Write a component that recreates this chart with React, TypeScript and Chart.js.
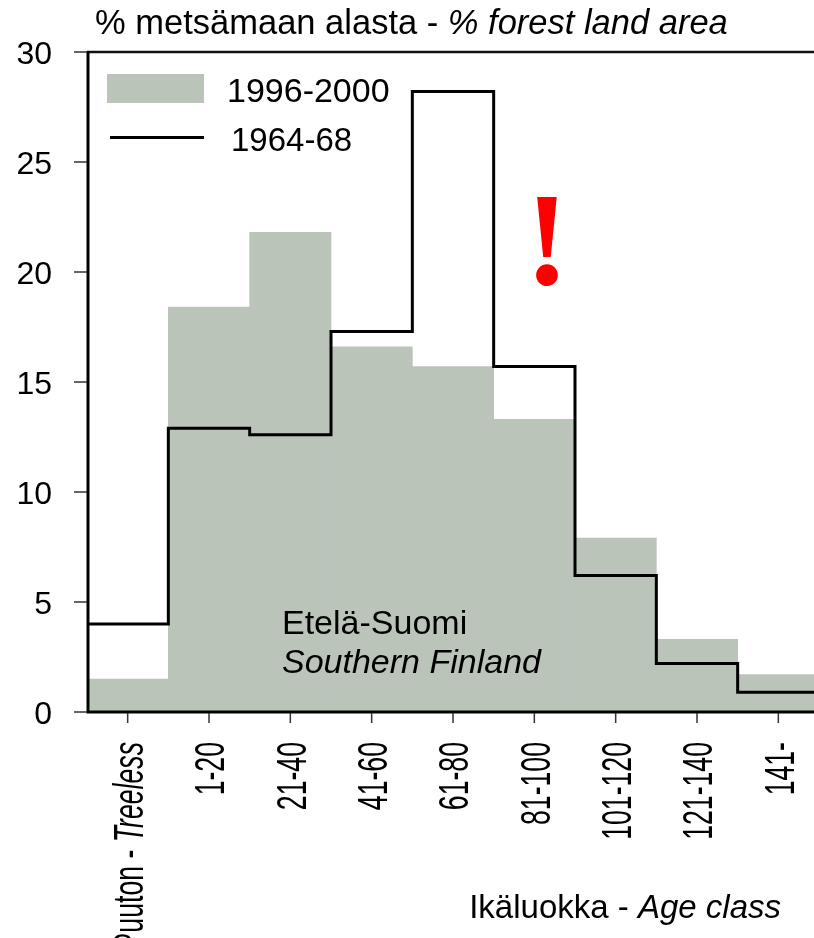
import { useEffect, useRef } from 'react';
import { Chart, registerables } from 'chart.js';

Chart.register(...registerables);

const categories = ['Puuton - Treeless', '1-20', '21-40', '41-60', '61-80', '81-100', '101-120', '121-140', '141-'];
const forest1996 = [1.5, 18.4, 21.8, 16.6, 15.7, 13.3, 7.9, 3.3, 1.7];
const forest1964 = [4.0, 12.9, 12.6, 17.3, 28.2, 15.7, 6.2, 2.2, 0.9];
const yTicks = [0, 5, 10, 15, 20, 25, 30];
const seriesNames = ['1996-2000', '1964-68'];

const GRAY = '#bac4b9';
const SANS = '"Liberation Sans", Arial, sans-serif';

type Seg = [string, boolean];

function segWidth(ctx: CanvasRenderingContext2D, segs: Seg[], size: number) {
  let w = 0;
  for (const [t, it] of segs) {
    ctx.font = `${it ? 'italic ' : ''}${size}px ${SANS}`;
    w += ctx.measureText(t).width;
  }
  return w;
}

function drawRich(ctx: CanvasRenderingContext2D, segs: Seg[], size: number, x: number, y: number) {
  let cx = x;
  for (const [t, it] of segs) {
    ctx.font = `${it ? 'italic ' : ''}${size}px ${SANS}`;
    ctx.fillText(t, cx, y);
    cx += ctx.measureText(t).width;
  }
}

function splitLabel(label: string): Seg[] {
  const i = label.indexOf(' - ');
  if (i < 0) return [[label, false]];
  return [[label.slice(0, i + 3), false], [label.slice(i + 3), true]];
}

const decorPlugin = {
  id: 'decor',
  afterDatasetsDraw(chart: any) {
    const { ctx, chartArea, scales } = chart;
    const xs = scales.x;
    const ys = scales.y;
    const yTop = ys.getPixelForValue(30);
    const y0 = ys.getPixelForValue(0);
    ctx.save();
    ctx.fillStyle = '#000';
    ctx.textBaseline = 'alphabetic';

    // frame lines
    ctx.strokeStyle = '#111';
    ctx.lineWidth = 2.5;
    ctx.beginPath();
    ctx.moveTo(chartArea.left, yTop);
    ctx.lineTo(chartArea.right + 5, yTop);
    ctx.stroke();
    ctx.strokeStyle = '#000';
    ctx.lineWidth = 3;
    ctx.beginPath();
    ctx.moveTo(chartArea.left + 1, yTop - 1);
    ctx.lineTo(chartArea.left + 1, y0 + 1.5);
    ctx.moveTo(chartArea.left, y0);
    ctx.lineTo(chartArea.right + 5, y0);
    ctx.stroke();

    // y ticks
    ctx.strokeStyle = '#333';
    ctx.lineWidth = 1.5;
    ctx.font = `32px ${SANS}`;
    ctx.textAlign = 'right';
    for (const v of yTicks) {
      const py = ys.getPixelForValue(v);
      ctx.beginPath();
      ctx.moveTo(74, py);
      ctx.lineTo(chartArea.left, py);
      ctx.stroke();
      ctx.fillText(String(v), 52, py + 11.5);
    }

    // x ticks and rotated labels
    ctx.textAlign = 'left';
    const xsSize = 43;
    for (let i = 0; i < categories.length; i++) {
      const px = xs.getPixelForValue(i);
      ctx.beginPath();
      ctx.moveTo(px, y0 + 1);
      ctx.lineTo(px, y0 + 11);
      ctx.stroke();
      const segs = splitLabel(categories[i]);
      ctx.save();
      ctx.translate(px + 0.358 * xsSize, 742);
      ctx.rotate(-Math.PI / 2);
      ctx.scale(0.62, 1);
      const w = segWidth(ctx, segs, xsSize);
      drawRich(ctx, segs, xsSize, -w, 0);
      ctx.restore();
    }

    // title
    drawRich(ctx, [['% metsämaan alasta - ', false], ['% forest land area', true]], 34.5, 95, 34);
    // x axis title
    const xt: Seg[] = [['Ikäluokka - ', false], ['Age class', true]];
    const xtw = segWidth(ctx, xt, 33);
    drawRich(ctx, xt, 33, 781 - xtw, 918);

    // region text
    ctx.font = `34px ${SANS}`;
    ctx.fillText('Etelä-Suomi', 282, 634);
    ctx.font = `italic 34px ${SANS}`;
    ctx.fillText('Southern Finland', 282, 673);

    // legend
    ctx.fillStyle = GRAY;
    ctx.fillRect(107, 74, 97, 29);
    ctx.fillStyle = '#000';
    ctx.font = `34px ${SANS}`;
    ctx.fillText(seriesNames[0], 227, 102);
    ctx.strokeStyle = '#000';
    ctx.lineWidth = 3;
    ctx.beginPath();
    ctx.moveTo(110, 137.5);
    ctx.lineTo(204, 137.5);
    ctx.stroke();
    ctx.font = `33px ${SANS}`;
    ctx.fillText(seriesNames[1], 231, 151);

    // exclamation
    ctx.fillStyle = '#ff0000';
    ctx.textAlign = 'center';
    ctx.font = `bold 134px "Liberation Serif", "Times New Roman", serif`;
    ctx.fillText('!', 547, 284);

    ctx.restore();
  },
};

export default function App() {
  const ref = useRef<HTMLCanvasElement | null>(null);
  useEffect(() => {
    if (!ref.current) return;
    const linePoints: { x: number; y: number }[] = forest1964.map((v, i) => ({ x: i - 0.5, y: v }));
    linePoints.push({ x: forest1964.length - 0.5, y: forest1964[forest1964.length - 1] });
    const chart = new Chart(ref.current, {
      type: 'bar',
      data: {
        labels: categories,
        datasets: [
          {
            type: 'line',
            label: seriesNames[1],
            data: linePoints as any,
            xAxisID: 'x2',
            yAxisID: 'y',
            borderColor: '#000',
            borderWidth: 3,
            pointRadius: 0,
            stepped: true,
            fill: false,
            borderJoinStyle: 'miter',
            borderCapStyle: 'butt',
            order: 0,
          } as any,
          {
            type: 'bar',
            label: seriesNames[0],
            data: forest1996,
            backgroundColor: GRAY,
            borderWidth: 0,
            barPercentage: 1,
            categoryPercentage: 1,
            grouped: false,
            xAxisID: 'x',
            yAxisID: 'y',
            order: 1,
          } as any,
        ],
      },
      options: {
        responsive: false,
        animation: false,
        devicePixelRatio: 1,
        layout: { padding: { left: 87, right: 3, top: 52, bottom: 226 } },
        plugins: { legend: { display: false }, tooltip: { enabled: false }, title: { display: false } },
        scales: {
          x: { type: 'category', display: false, offset: true, grid: { display: false } },
          x2: { type: 'linear', display: false, offset: false, min: -0.5, max: categories.length - 0.5 },
          y: { type: 'linear', display: false, min: 0, max: 30 },
        },
      },
      plugins: [decorPlugin],
    });
    return () => chart.destroy();
  }, []);
  return (
    <div style={{ position: 'fixed', left: 0, top: 0, width: 814, height: 938, overflow: 'hidden', background: '#fff' }}>
      <canvas ref={ref} width={822} height={938} style={{ display: 'block', width: 822, height: 938 }} />
    </div>
  );
}
